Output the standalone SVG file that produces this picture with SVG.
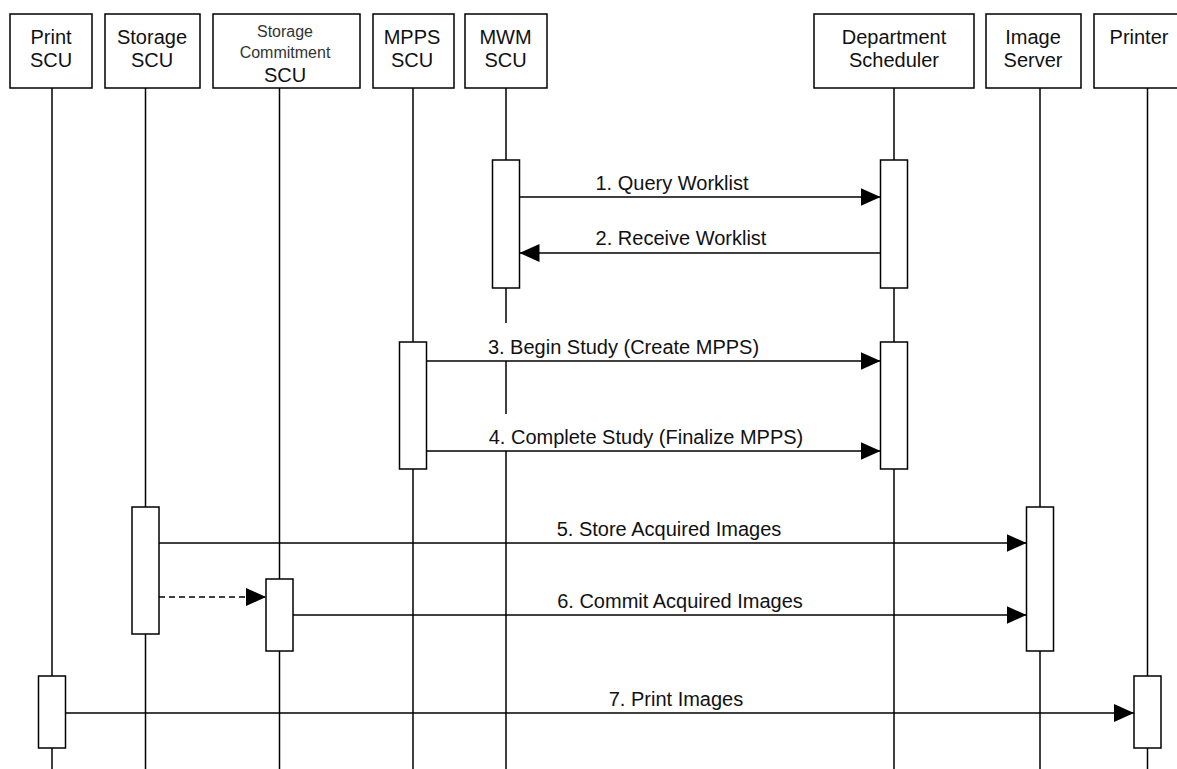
<svg xmlns="http://www.w3.org/2000/svg" width="1177" height="769" viewBox="0 0 1177 769">
<style>
.box{fill:#fff;stroke:#000;stroke-width:1.5}
.life{stroke:#000;stroke-width:1.5;fill:none}
.act{fill:#fff;stroke:#000;stroke-width:1.5}
.msg{stroke:#000;stroke-width:1.5;fill:none}
.dash{stroke-dasharray:6 4}
.t{font-family:"Liberation Sans",Arial,sans-serif;font-size:20px;fill:#111;text-anchor:middle}
.s{font-size:16px;fill:#333}
</style>
<defs>
<marker id="ah" markerUnits="userSpaceOnUse" markerWidth="20" markerHeight="18" refX="20" refY="9" orient="auto">
<path d="M0,0 L20,9 L0,18 Z" fill="#000"/>
</marker>
</defs>
<rect width="1177" height="769" fill="#fff"/>

<g id="print-scu">
<line class="life" x1="52" y1="88" x2="52" y2="769"/>
<rect class="box" x="10" y="14" width="82" height="74"/>
<text class="t" x="51" y="44">Print</text>
<text class="t" x="51" y="67">SCU</text>
<rect class="act" x="38.5" y="676" width="27" height="72"/>
</g>

<g id="storage-scu">
<line class="life" x1="145.5" y1="88" x2="145.5" y2="769"/>
<rect class="box" x="105" y="14" width="95" height="74"/>
<text class="t" x="152" y="44">Storage</text>
<text class="t" x="152" y="67">SCU</text>
<rect class="act" x="132" y="507" width="27" height="127"/>
</g>

<g id="storage-commitment-scu">
<line class="life" x1="279.5" y1="88" x2="279.5" y2="769"/>
<rect class="box" x="213" y="14" width="147" height="74"/>
<text class="t s" x="285" y="37">Storage</text>
<text class="t s" x="285" y="58">Commitment</text>
<text class="t" x="285" y="82">SCU</text>
<rect class="act" x="266" y="579" width="27" height="72"/>
</g>

<g id="mpps-scu">
<line class="life" x1="413" y1="88" x2="413" y2="769"/>
<rect class="box" x="373" y="14" width="81" height="74"/>
<text class="t" x="412" y="44">MPPS</text>
<text class="t" x="412" y="67">SCU</text>
<rect class="act" x="399.5" y="342" width="27" height="127"/>
</g>

<g id="mwm-scu">
<line class="life" x1="506" y1="88" x2="506" y2="323"/>
<line class="life" x1="506" y1="361" x2="506" y2="414"/>
<line class="life" x1="506" y1="451" x2="506" y2="769"/>
<rect class="box" x="465" y="14" width="82" height="74"/>
<text class="t" x="505.5" y="44">MWM</text>
<text class="t" x="505.5" y="67">SCU</text>
<rect class="act" x="492.5" y="160" width="27" height="128"/>
</g>

<g id="department-scheduler">
<line class="life" x1="894" y1="88" x2="894" y2="769"/>
<rect class="box" x="814" y="14" width="160" height="74"/>
<text class="t" x="894" y="44">Department</text>
<text class="t" x="894" y="67">Scheduler</text>
<rect class="act" x="880.5" y="160" width="27" height="128"/>
<rect class="act" x="880.5" y="342" width="27" height="127"/>
</g>

<g id="image-server">
<line class="life" x1="1040" y1="88" x2="1040" y2="769"/>
<rect class="box" x="986" y="14" width="95" height="74"/>
<text class="t" x="1033" y="44">Image</text>
<text class="t" x="1033" y="67">Server</text>
<rect class="act" x="1026.5" y="507" width="27" height="144"/>
</g>

<g id="printer">
<line class="life" x1="1147.5" y1="88" x2="1147.5" y2="769"/>
<rect class="box" x="1094" y="14" width="92" height="74"/>
<text class="t" x="1139" y="44">Printer</text>
<rect class="act" x="1134" y="676" width="27" height="72"/>
</g>

<g id="connectors">
<line class="msg" x1="519.5" y1="197" x2="880.5" y2="197" marker-end="url(#ah)"/>
<text class="t" x="672" y="190">1. Query Worklist</text>
<line class="msg" x1="880.5" y1="253" x2="519.5" y2="253" marker-end="url(#ah)"/>
<text class="t" x="681" y="245">2. Receive Worklist</text>
<line class="msg" x1="426.5" y1="361" x2="880.5" y2="361" marker-end="url(#ah)"/>
<text class="t" x="623.5" y="354">3. Begin Study (Create MPPS)</text>
<line class="msg" x1="426.5" y1="451" x2="880.5" y2="451" marker-end="url(#ah)"/>
<text class="t" x="646" y="444">4. Complete Study (Finalize MPPS)</text>
<line class="msg" x1="159" y1="543" x2="1026.5" y2="543" marker-end="url(#ah)"/>
<text class="t" x="669" y="536">5. Store Acquired Images</text>
<line class="msg dash" x1="159" y1="597" x2="266" y2="597" marker-end="url(#ah)"/>
<line class="msg" x1="293" y1="615" x2="1026.5" y2="615" marker-end="url(#ah)"/>
<text class="t" x="680" y="608">6. Commit Acquired Images</text>
<line class="msg" x1="65.5" y1="713" x2="1134" y2="713" marker-end="url(#ah)"/>
<text class="t" x="676" y="706">7. Print Images</text>
</g>
</svg>
